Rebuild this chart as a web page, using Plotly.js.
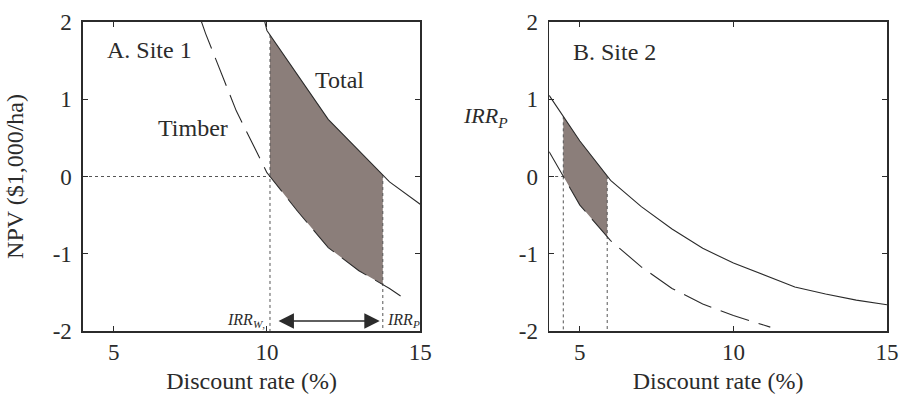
<!DOCTYPE html>
<html><head><meta charset="utf-8">
<script src="https://cdn.plot.ly/plotly-3.0.1.min.js"></script>
<style>html,body{margin:0;padding:0;background:#fff}#chart{width:902px;height:405px}</style>
</head><body><div id="chart"></div>
<script>
// Site 1 (panel A)
const site1TotalRate = [9.9, 10, 12, 14, 15];
const site1TotalNPV  = [2.05, 1.89, 0.74, -0.07, -0.36];
const site1TimberRate = [7.85, 8, 9, 10, 10.1, 11, 12, 13, 14, 14.45];
const site1TimberNPV  = [2.02, 1.85, 0.85, 0.05, 0, -0.45, -0.92, -1.22, -1.45, -1.57];
const site1IRRW = 10.1;
const site1IRRP = 13.78;
// Site 2 (panel B)
const site2TotalRate = [4, 5, 6, 7, 8, 9, 10, 11, 12, 13, 14, 15];
const site2TotalNPV  = [1.05, 0.46, -0.05, -0.39, -0.68, -0.93, -1.12, -1.28, -1.43, -1.52, -1.6, -1.66];
const site2TimberRate = [4, 5, 6, 7, 8, 9, 10, 11, 11.2];
const site2TimberNPV  = [0.32, -0.37, -0.83, -1.17, -1.45, -1.65, -1.8, -1.93, -1.95];
const site2IRRW = 4.46;
const site2IRRP = 5.89;

const yTickVals = [-2, -1, 0, 1, 2];
const yTickText = ['-2', '-1', '0', '1', '2'];
const xTickVals = [5, 10, 15];
const xTickText = ['5', '10', '15'];

const FONT = 'Liberation Serif, Times New Roman, serif';
const INK = '#2b2b2b';
const SHADE = '#8b7e7a';

function interp(xs, ys, x) {
  for (let i = 0; i < xs.length - 1; i++) {
    if (x >= xs[i] && x <= xs[i + 1]) {
      const t = (x - xs[i]) / (xs[i + 1] - xs[i]);
      return ys[i] + t * (ys[i + 1] - ys[i]);
    }
  }
  return x < xs[0] ? ys[0] : ys[ys.length - 1];
}
function band(tx, ty, bx, by, a, b) {
  const px = [], py = [];
  const topX = [a].concat(tx.filter(v => v > a && v < b), [b]);
  topX.forEach(v => { px.push(v); py.push(interp(tx, ty, v)); });
  const botX = [a].concat(bx.filter(v => v > a && v < b), [b]).reverse();
  botX.forEach(v => { px.push(v); py.push(interp(bx, by, v)); });
  px.push(px[0]); py.push(py[0]);
  return {x: px, y: py};
}

function panel(tx, ty, bx, by, irrW, irrP, xa, ya) {
  const s = band(tx, ty, bx, by, irrW, irrP);
  const topW = interp(tx, ty, irrW);
  const topP = interp(tx, ty, irrP);
  return [
    {x: s.x, y: s.y, xaxis: xa, yaxis: ya, type: 'scatter', mode: 'lines', fill: 'toself',
     fillcolor: SHADE, line: {width: 0, color: SHADE}, hoverinfo: 'skip', showlegend: false},
    {x: [4, irrW], y: [0, 0], xaxis: xa, yaxis: ya, mode: 'lines',
     line: {color: '#555', width: 1, dash: 'dot'}, showlegend: false},
    {x: [irrW, irrW], y: [Math.max(topW, 0), -2], xaxis: xa, yaxis: ya, mode: 'lines',
     line: {color: '#555', width: 1, dash: 'dot'}, showlegend: false},
    {x: [irrP, irrP], y: [Math.max(topP, 0), -2], xaxis: xa, yaxis: ya, mode: 'lines',
     line: {color: '#555', width: 1, dash: 'dot'}, showlegend: false},
    {x: tx, y: ty, xaxis: xa, yaxis: ya, mode: 'lines',
     line: {color: INK, width: 1.1}, showlegend: false},
    {x: bx, y: by, xaxis: xa, yaxis: ya, mode: 'lines',
     line: {color: INK, width: 1.1, dash: '30px,10px'}, showlegend: false}
  ];
}

const data = panel(site1TotalRate, site1TotalNPV, site1TimberRate, site1TimberNPV, site1IRRW, site1IRRP, 'x', 'y')
  .concat(panel(site2TotalRate, site2TotalNPV, site2TimberRate, site2TimberNPV, site2IRRW, site2IRRP, 'x2', 'y2'));

function xAxis(domain, anchor) {
  return {domain: domain, anchor: anchor, range: [4, 15], tickvals: xTickVals, ticktext: xTickText,
    ticks: 'inside', ticklen: 5, tickcolor: INK, showline: true, linecolor: INK, linewidth: 1.6,
    mirror: 'ticks', showgrid: false, zeroline: false, tickfont: {family: FONT, size: 23, color: INK},
    title: {text: 'Discount rate (%)', font: {family: FONT, size: 24, color: INK}, standoff: 8},
    automargin: false};
}
function yAxis(anchor, title) {
  const ax = {anchor: anchor, domain: [0, 1], range: [-2, 2], tickvals: yTickVals, ticktext: yTickText,
    ticks: 'inside', ticklen: 5, tickcolor: INK, showline: true, linecolor: INK, linewidth: 1.6,
    mirror: 'ticks', showgrid: false, zeroline: false, tickfont: {family: FONT, size: 23, color: INK},
    ticklabelstandoff: 5, automargin: false};
  if (title) ax.title = {text: title, font: {family: FONT, size: 24, color: INK}, standoff: 22};
  return ax;
}

const ann = (x, y, text, size, opts) => Object.assign({x: x, y: y, xref: 'x', yref: 'y', text: text,
  showarrow: false, font: {family: FONT, size: size, color: INK}}, opts || {});

const layout = {
  width: 902, height: 405,
  margin: {l: 82.6, r: 15, t: 22, b: 74},
  paper_bgcolor: '#fff', plot_bgcolor: '#fff',
  xaxis: xAxis([0, 0.4194], 'y'),
  yaxis: yAxis('x', 'NPV ($1,000/ha)'),
  xaxis2: xAxis([0.5798, 1], 'y2'),
  yaxis2: yAxis('x2', null),
  showlegend: false,
  annotations: [
    ann(6.16, 1.64, 'A. Site 1', 24),
    ann(12.38, 1.25, 'Total', 24),
    ann(7.6, 0.63, 'Timber', 24),
    ann(10.0, -1.87, '<i>IRR</i><sub><i>W</i>,</sub>', 16, {xanchor: 'right'}),
    ann(13.84, -1.87, '<i>IRR</i><sub><i>P</i></sub>', 16, {xanchor: 'left'}),
    {x: 13.68, y: -1.87, ax: site1IRRW + 0.23, ay: -1.87, xref: 'x', yref: 'y', axref: 'x', ayref: 'y',
     text: '', showarrow: true, arrowside: 'end+start', arrowhead: 2, arrowsize: 2.2, arrowwidth: 1.4, arrowcolor: INK},
    {x: 0.5, y: 0.745, xref: 'paper', yref: 'paper', text: '<i>IRR</i><sub><i>P</i></sub>', showarrow: false,
     font: {family: FONT, size: 22, color: INK}},
    ann(6.12, 1.61, 'B. Site 2', 24, {xref: 'x2', yref: 'y2'})
  ]
};

Plotly.newPlot('chart', data, layout, {displayModeBar: false, staticPlot: true});
</script>
</body></html>
